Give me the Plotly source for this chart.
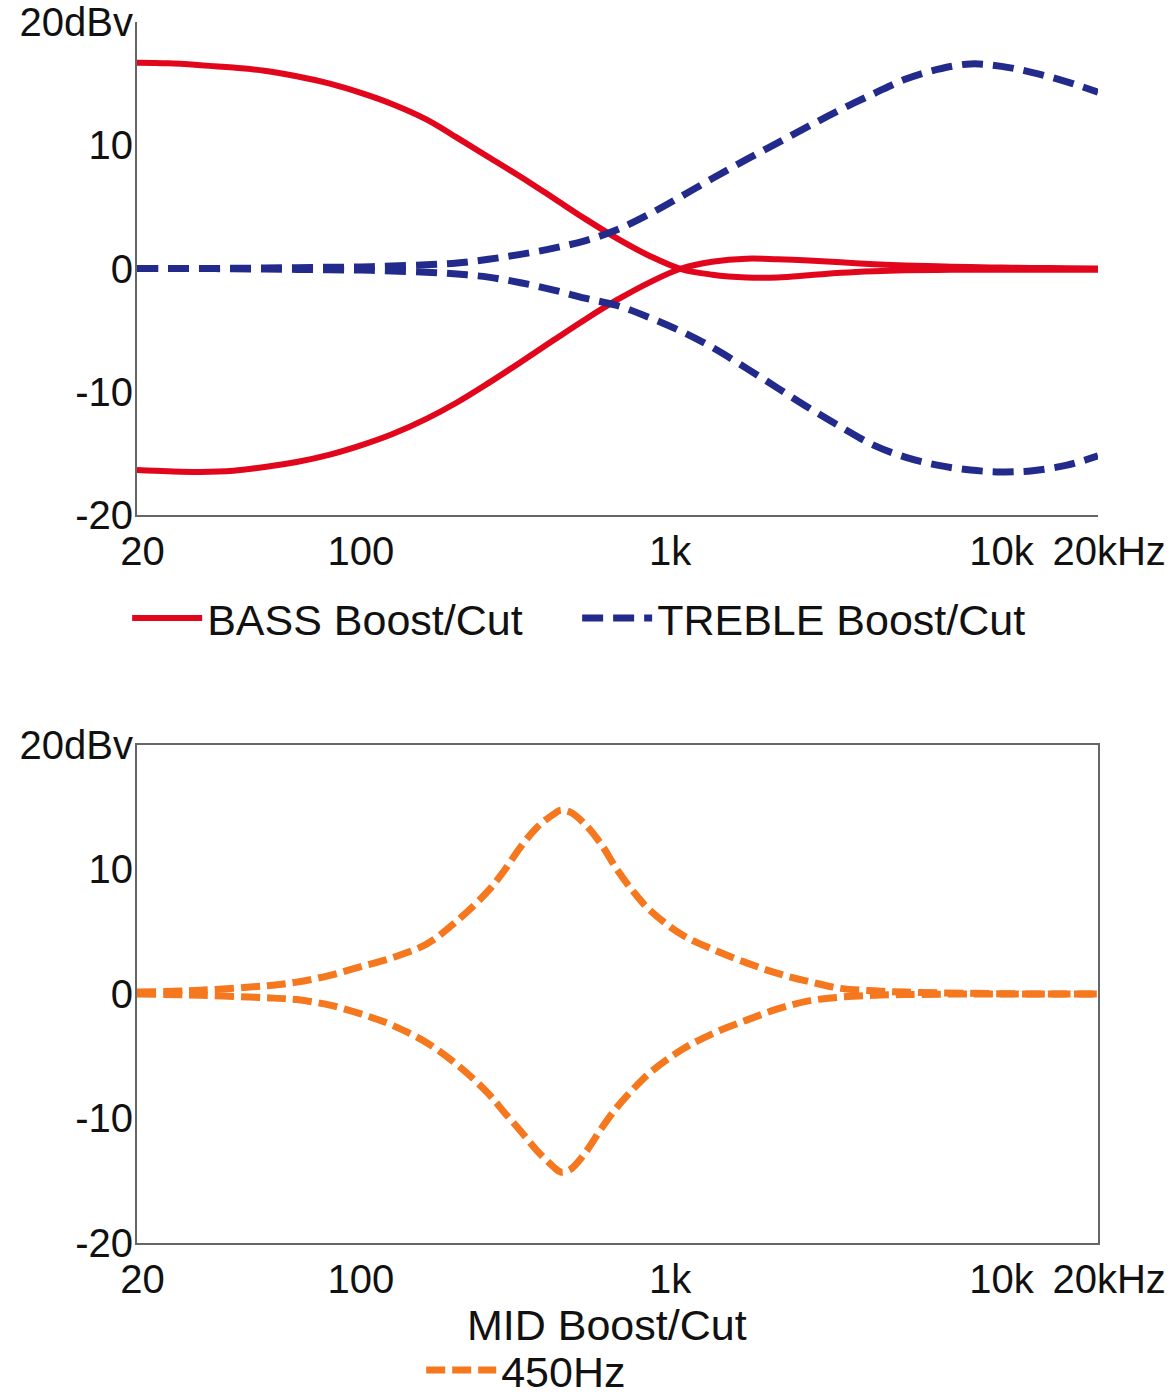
import math
import plotly.graph_objects as go

# ---------------- data ----------------
freq_top = [20, 25, 31.5, 40, 50, 63, 80, 100, 125, 160, 200, 250, 315, 400, 500, 630,
            800, 1000, 1250, 1600, 2000, 2500, 3150, 4000, 5000, 6300, 8000, 10000,
            12500, 16000, 20000]
bass_boost = [16.7, 16.65, 16.5, 16.3, 16.05, 15.6, 15.0, 14.25, 13.35, 12.1, 10.6,
              9.05, 7.45, 5.7, 4.05, 2.45, 1.0, -0.05, -0.5, -0.72, -0.72, -0.55, -0.35,
              -0.22, -0.15, -0.12, -0.1, -0.1, -0.1, -0.1, -0.1]
bass_cut = [-16.35, -16.45, -16.5, -16.4, -16.1, -15.7, -15.1, -14.35, -13.45, -12.2,
            -10.85, -9.3, -7.6, -5.8, -4.15, -2.55, -1.1, 0.0, 0.55, 0.8, 0.75, 0.65,
            0.5, 0.35, 0.25, 0.18, 0.12, 0.08, 0.05, 0.02, 0.0]
treble_boost = [0.0, 0.0, 0.0, 0.02, 0.04, 0.07, 0.1, 0.13, 0.2, 0.3, 0.45, 0.75, 1.15,
                1.65, 2.25, 3.15, 4.45, 5.85, 7.3, 8.85, 10.2, 11.55, 12.9, 14.2, 15.35,
                16.15, 16.6, 16.4, 15.9, 15.15, 14.3]
treble_cut = [0.0, 0.0, 0.0, -0.02, -0.04, -0.07, -0.1, -0.13, -0.2, -0.3, -0.45, -0.7,
              -1.15, -1.75, -2.4, -3.0, -4.0, -5.1, -6.4, -8.1, -9.7, -11.3, -12.85,
              -14.35, -15.3, -15.95, -16.35, -16.5, -16.4, -15.95, -15.2]

freq_mid = [20, 31.5, 50, 63, 80, 100, 125, 160, 200, 250, 280, 315, 355, 400, 420, 450,
            500, 560, 630, 710, 800, 1000, 1250, 1600, 2000, 2500, 3150, 4000, 5000,
            8000, 12500, 20000]
mid_boost = [0.15, 0.3, 0.65, 0.95, 1.5, 2.2, 2.9, 4.0, 5.9, 8.3, 9.9, 11.8, 13.4,
             14.45, 14.75, 14.6, 13.65, 12.1, 10.0, 8.2, 6.7, 4.8, 3.6, 2.5, 1.65, 1.0,
             0.45, 0.25, 0.15, 0.05, 0.0, 0.0]
mid_cut = [0.0, -0.1, -0.3, -0.45, -0.9, -1.6, -2.5, -3.9, -5.7, -8.0, -9.5, -11.0,
           -12.6, -13.9, -14.3, -14.1, -12.8, -10.9, -9.1, -7.6, -6.3, -4.5, -3.2, -2.1,
           -1.2, -0.55, -0.25, -0.1, -0.05, 0.0, 0.0, 0.0]

NB = "\u00a0"
x_tickvals = [20, 100, 1000, 10000, 20000]
x_ticktext = [NB + "20", "100", "1k" + NB * 2, "10k", NB * 2 + "20kHz"]
y_tickvals = [20, 10, 0, -10, -20]
y_ticktext = ["20dBv", "10", "0", "-10", "-20"]

RED = "#E2061C"
NAVY = "#222A8C"
ORANGE = "#F5771E"
FONT = "Liberation Sans, Arial, sans-serif"
TXT = "#111111"

fig = go.Figure()

fig.add_trace(go.Scatter(x=freq_top, y=bass_boost, mode="lines", name="BASS Boost/Cut",
                         legendgroup="bass", line=dict(color=RED, width=6, shape="spline"),
                         xaxis="x", yaxis="y", legend="legend"))
fig.add_trace(go.Scatter(x=freq_top, y=bass_cut, mode="lines", name="BASS Boost/Cut",
                         legendgroup="bass", showlegend=False,
                         line=dict(color=RED, width=6, shape="spline"),
                         xaxis="x", yaxis="y", legend="legend"))
fig.add_trace(go.Scatter(x=freq_top, y=treble_boost, mode="lines", name="TREBLE Boost/Cut",
                         legendgroup="treble",
                         line=dict(color=NAVY, width=7, dash="21px,10px", shape="spline"),
                         xaxis="x", yaxis="y", legend="legend"))
fig.add_trace(go.Scatter(x=freq_top, y=treble_cut, mode="lines", name="TREBLE Boost/Cut",
                         legendgroup="treble", showlegend=False,
                         line=dict(color=NAVY, width=7, dash="21px,10px", shape="spline"),
                         xaxis="x", yaxis="y", legend="legend"))

fig.add_trace(go.Scatter(x=freq_mid, y=mid_boost, mode="lines", name="450Hz",
                         legendgroup="mid",
                         line=dict(color=ORANGE, width=7, dash="19px,7px", shape="spline"),
                         xaxis="x2", yaxis="y2", legend="legend2"))
fig.add_trace(go.Scatter(x=freq_mid, y=mid_cut, mode="lines", name="450Hz",
                         legendgroup="mid", showlegend=False,
                         line=dict(color=ORANGE, width=7, dash="19px,7px", shape="spline"),
                         xaxis="x2", yaxis="y2", legend="legend2"))

xrange = [math.log10(20), math.log10(20000)]

common_x = dict(type="log", range=xrange, tickvals=x_tickvals, ticktext=x_ticktext,
                showgrid=False, zeroline=False, ticks="",
                tickfont=dict(family=FONT, size=40, color=TXT),
                tickangle=0, ticklabeloverflow="allow", ticklabelstandoff=0,
                showline=True, linecolor="#666666", linewidth=2, automargin=False)
common_y = dict(range=[-20, 20], tickvals=y_tickvals, ticktext=y_ticktext,
                showgrid=False, zeroline=False, ticks="",
                tickfont=dict(family=FONT, size=40, color=TXT),
                tickangle=0, ticklabeloverflow="allow", ticklabelstandoff=-6,
                showline=True, linecolor="#666666", linewidth=2, automargin=False)

fig.update_layout(
    width=1174, height=1400,
    margin=dict(l=137, r=76, t=22, b=157, autoexpand=False),
    paper_bgcolor="white", plot_bgcolor="white",
    font=dict(family=FONT, color=TXT),
    xaxis=dict(domain=[0, 1], anchor="y", **common_x),
    yaxis=dict(domain=[0.5962, 1.0], anchor="x", **common_y),
    xaxis2=dict(domain=[0, 1], anchor="y2", mirror=True, **common_x),
    yaxis2=dict(domain=[0, 0.4079], anchor="x2", mirror=True, **common_y),
    legend=dict(orientation="h", x=0.458, y=0.5118, xanchor="center", yanchor="middle",
                font=dict(family=FONT, size=43, color=TXT),
                itemwidth=70, entrywidth=365, entrywidthmode="pixels",
                bgcolor="rgba(0,0,0,0)"),
    legend2=dict(orientation="h", x=0.405, y=-0.1040, xanchor="center", yanchor="middle",
                 font=dict(family=FONT, size=43, color=TXT),
                 itemwidth=70, bgcolor="rgba(0,0,0,0)"),
    annotations=[dict(text="MID Boost/Cut", xref="paper", yref="paper", x=0.489, y=-0.067,
                      xanchor="center", yanchor="middle", showarrow=False,
                      font=dict(family=FONT, size=43, color=TXT))],
)

fig.write_html("out.html", config={"displayModeBar": False},
               post_script="document.body.style.margin='0';")
